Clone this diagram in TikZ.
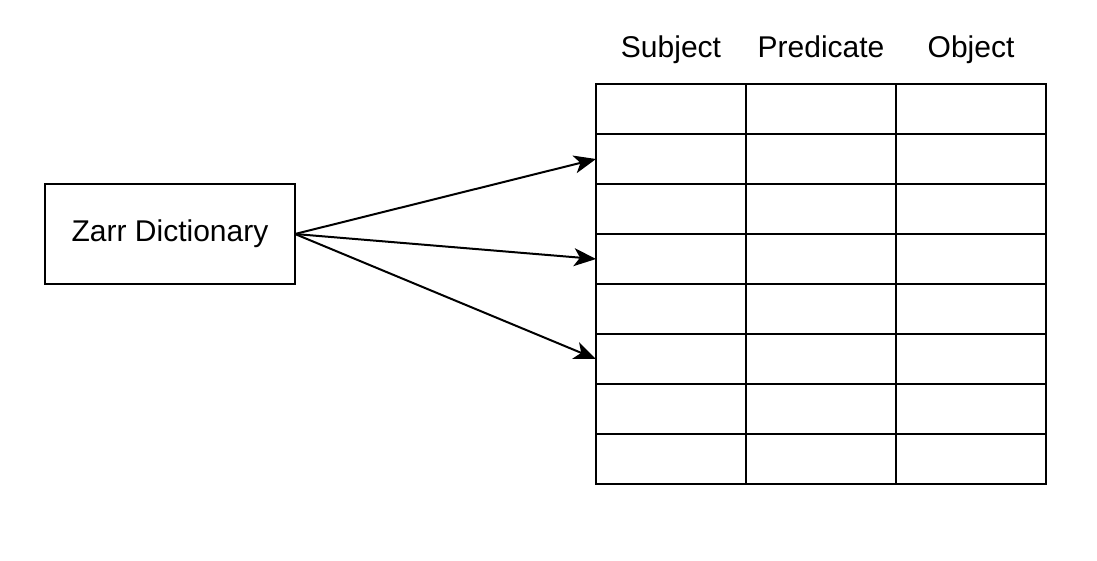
\documentclass[tikz,border=0pt]{standalone}
\usepackage{fontspec}
\setmainfont{Liberation Sans}
\usetikzlibrary{arrows.meta, positioning, calc}

\begin{document}
\begin{tikzpicture}
	[
	x = 1pt, y = -1pt,
	cell/.style = {rectangle, draw, line width = 2pt, minimum width = 150pt, minimum height = 50pt, inner sep = 0pt, outer sep = 0pt, anchor = north west},
	box/.style = {rectangle, draw, line width = 2pt, minimum width = 250pt, minimum height = 100pt, outer sep = 0pt, font = \fontsize{30}{34}\selectfont},
	hdr/.style = {font = \fontsize{30}{34}\selectfont, inner sep = 0pt},
	tip/.style = {
		->,
		line width = 2pt,
		>={Stealth[width=18pt,length=22pt,inset=6pt]}
	}
	]
	
	\useasboundingbox (0, 0) rectangle (1097, 560);
	
	\node[box] (zarr) at (170, 234) {Zarr Dictionary};
	\foreach \r in {1,...,8}
		\foreach \c in {1,2,3}
			\node[cell] (cell-\r-\c) at ({596 + 150*(\c-1)}, {84 + 50*(\r-1)}) {};
	
	\node[hdr, above = 27pt of cell-1-1, anchor = base] (subj) {Subject};
	\node[hdr, above = 27pt of cell-1-2, anchor = base] (pred) {Predicate};
	\node[hdr, above = 27pt of cell-1-3, anchor = base] (obj) {Object};
	
	\draw[tip] (zarr.east) -- (cell-2-1.west);
	\draw[tip] (zarr.east) -- (cell-4-1.west);
	\draw[tip] (zarr.east) -- (cell-6-1.west);
\end{tikzpicture}
\end{document}
